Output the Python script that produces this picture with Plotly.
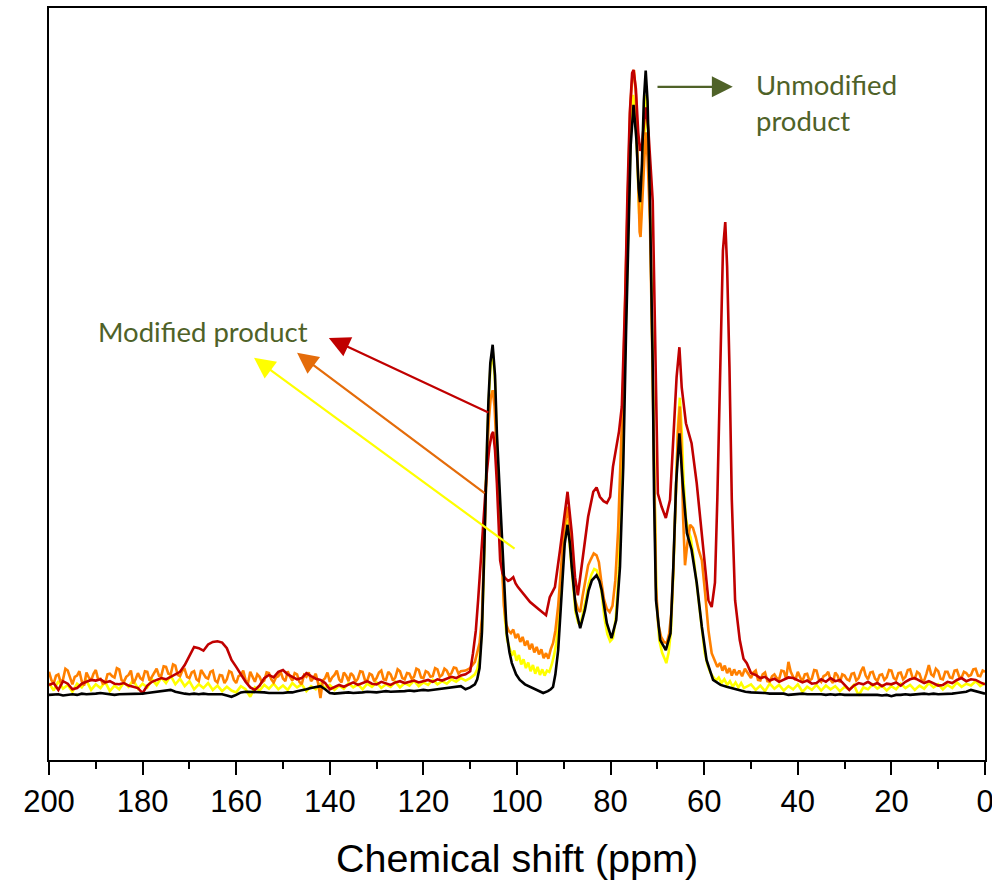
import plotly.graph_objects as go

# 13C CP/MAS spectra: intensity (a.u.) vs chemical shift (ppm)
# Baseline stretches are sampled on a regular ppm grid (200 -> 112 ppm and
# 50 -> 0 ppm); the peak region in between is listed point by point.
LEFT_PPM = list(range(200, 111, -1))
RIGHT_PPM = list(range(50, -1, -1))
# the noisier orange trace is sampled every 0.5 ppm
LEFT_PPM_FINE = [200 - 0.5 * i for i in range(177)]
RIGHT_PPM_FINE = [50 - 0.5 * i for i in range(101)]

black_left = [
    -0.3, -0.3, -0.2, -0.4, -0.3, -0.2, -0.3, -0.1, -0.2, -0.2,
    -0.1, 0.0, -0.1, -0.2, -0.3, -0.2, -0.2, -0.1, -0.2, -0.2,
    -0.1, 0.0, 0.1, 0.1, 0.2, 0.3, 0.5, 0.2, 0.0, -0.1,
    -0.2, -0.1, -0.2, -0.1, -0.2, -0.2, -0.3, -0.2, -0.4, -0.6,
    -0.3, 0.1, 0.2, 0.2, 0.1, 0.2, 0.1, 0.0, 0.0, -0.1,
    0.0, 0.1, 0.1, 0.3, 0.4, 0.6, 0.8, 0.9, 1.1, 0.6,
    0.0, -0.1, 0.0, 0.1, 0.1, 0.0, 0.0, 0.1, 0.2, 0.1,
    0.1, 0.2, 0.3, 0.2, 0.2, 0.3, 0.3, 0.4, 0.3, 0.4,
    0.5, 0.4, 0.5, 0.6, 0.6, 0.7, 0.8, 0.9, 1.1,
]
black_peak = [
    (111, 0.6), (110, 0.9), (109, 1.4), (108.5, 2.2), (108, 4.0), (107.5, 9.6),
    (107.1, 20), (106.8, 31), (106.4, 40), (106.1, 47), (105.7, 53), (105.2, 55.9),
    (104.7, 51), (104.3, 41.7), (103.6, 31), (103.0, 20.2), (102.6, 14), (102.2, 9.6),
    (101.6, 6.5), (101.1, 4.8), (100.2, 3.0), (99.4, 2.1), (98.3, 1.4), (97.2, 1.0),
    (96.0, 0.6), (95.0, 0.2), (94.4, 0.0), (93.4, 0.3), (92.8, 0.6), (92.3, 1.0),
    (91.8, 3.0), (91.2, 6.9), (90.8, 12), (90.4, 17.7), (89.8, 24), (89.2, 27.0),
    (88.7, 24), (88.3, 20.2), (87.4, 13.3), (86.5, 10.4), (85.5, 13.3), (84.7, 16.5),
    (84.0, 18.1), (83.0, 18.9), (82.4, 18.0), (81.9, 16.5), (80.8, 11.2), (79.8, 8.8),
    (78.8, 11.7), (78.0, 20.2), (77.3, 36.3), (76.7, 57.8), (76.2, 75), (75.7, 88),
    (75.1, 94.4), (74.5, 89), (74.0, 81), (73.7, 78.8), (73.3, 85), (72.9, 95),
    (72.5, 99.9), (72.1, 95), (71.6, 79), (71.0, 52.3), (70.7, 31), (70.3, 14.9),
    (69.4, 8.5), (68.2, 6.9), (67.2, 9.6), (66.6, 20.2), (66.0, 33.7), (65.3, 41.7),
    (64.6, 33.7), (63.7, 25.7), (62.7, 23.0), (61.6, 17.7), (60.5, 10.6), (59.5, 5.3),
    (58.1, 2.1), (56.5, 1.3), (55.2, 1.0), (53.8, 0.7), (52.4, 0.5), (51.2, 0.2),
]
black_right = [
    0.1, 0.1, 0.0, 0.0, -0.1, -0.1, -0.2, -0.1, -0.3, -0.2,
    -0.1, -0.1, -0.2, -0.2, -0.1, -0.2, -0.3, -0.2, -0.3, -0.2,
    -0.3, -0.3, -0.2, -0.2, -0.3, -0.2, -0.2, -0.3, -0.4, -0.3,
    -0.5, -0.3, -0.3, -0.2, -0.3, -0.2, -0.2, -0.1, -0.2, -0.1,
    -0.2, -0.2, -0.1, -0.1, 0.0, 0.1, 0.2, 0.5, 0.3, 0.0, -0.1,
]

red_left = [
    1.3, 1.6, 0.5, 1.9, 1.5, 0.6, 0.8, 1.5, 1.8, 2.1,
    2.0, 2.2, 1.7, 1.9, 1.5, 1.4, 1.6, 1.2, 1.0, 0.8,
    0.0, 1.2, 1.8, 2.1, 2.4, 2.2, 2.6, 2.9, 3.4, 4.5,
    6.0, 7.4, 7.2, 6.8, 7.8, 8.2, 8.3, 8.1, 7.2, 5.3,
    4.2, 2.9, 1.8, 0.9, 0.5, 1.2, 2.4, 2.9, 2.5, 3.4,
    3.7, 3.0, 2.6, 2.2, 2.4, 3.2, 2.7, 2.3, 2.1, 1.6,
    0.6, 0.9, 1.3, 1.0, 1.4, 1.7, 1.3, 1.6, 1.9, 1.5,
    1.4, 1.8, 1.6, 1.3, 1.7, 1.9, 1.6, 1.8, 2.0, 1.7,
    1.9, 2.1, 1.8, 2.2, 2.0, 2.3, 2.6, 2.4, 2.8,
]
red_peak = [
    (111, 3.0), (110, 3.5), (109.4, 6.4), (108.8, 10), (108.3, 15), (107.7, 22),
    (107.1, 29), (106.5, 35), (105.9, 39.5), (105.4, 41.5), (105.1, 41.9), (104.7, 39),
    (104.3, 33.7), (103.9, 27), (103.6, 21.3), (103.1, 19.2), (102.6, 18.5), (101.9, 18.0),
    (101.4, 18.2), (100.8, 18.6), (100.3, 17.6), (99.8, 17.0), (98.7, 16.0), (97.2, 14.6),
    (95.1, 13.3), (93.8, 12.5), (93.0, 15.4), (91.9, 17.0), (90.8, 23), (89.7, 29.4),
    (89.2, 32.3), (88.3, 25.7), (87.6, 18.6), (87.0, 15.7), (86.4, 19), (85.6, 24),
    (84.8, 28.3), (83.7, 32.3), (83.0, 33.0), (82.3, 31.5), (81.5, 30.8), (80.8, 30.5),
    (80.1, 31.5), (79.5, 36.3), (78.9, 39), (78.2, 42), (77.6, 46), (77.2, 54),
    (76.9, 63), (76.4, 80), (75.9, 93), (75.4, 99.5), (75.1, 100.0), (74.6, 97),
    (74.1, 90), (73.7, 87), (73.3, 88), (72.8, 92), (72.4, 94), (71.9, 90),
    (71.4, 84), (71.0, 79), (70.6, 62), (70.2, 42), (69.9, 32), (69.1, 29.9),
    (68.2, 28.1), (67.3, 31), (66.7, 39), (65.9, 50.7), (65.3, 55.5), (64.8, 49),
    (63.9, 43.3), (62.7, 40.1), (61.6, 33.7), (60.5, 25.7), (59.8, 20.2), (59.1, 14.9),
    (58.4, 13.8), (57.7, 17.7), (57.2, 31), (56.6, 52.3), (56.0, 71), (55.5, 75.6),
    (55.1, 68.4), (54.6, 52.3), (54.1, 31), (53.4, 14.9), (52.4, 8.5), (51.6, 5.5),
    (50.9, 4.8),
]
red_right = [
    3.2, 2.9, 2.4, 2.6, 2.0, 2.3, 1.8, 2.2, 2.5, 2.4,
    2.1, 1.7, 2.0, 1.5, 1.6, 2.2, 1.8, 2.4, 1.9, 2.1,
    1.3, 0.5, 1.2, 1.6, 1.4, 1.8, 1.3, 1.6, 1.1, 1.5,
    1.4, 1.7, 1.2, 1.8, 2.2, 2.4, 2.0, 1.6, 1.9, 1.5,
    1.2, 1.3, 1.8, 1.6, 2.1, 2.4, 1.9, 2.2, 2.1, 1.7, 1.4,
]

orange_left = [
    3.4, 2.1, 1.5, 2.8, 3.0, 1.7, 2.2, 3.9, 3.6, 2.4,
    1.4, 2.6, 2.8, 3.5, 1.9, 1.2, 3.3, 2.5, 2.0, 3.1,
    3.7, 2.2, 2.3, 1.5, 1.6, 3.0, 3.1, 2.7, 2.5, 4.0,
    3.8, 2.1, 1.8, 2.6, 2.9, 3.6, 1.5, 2.2, 3.2, 2.4,
    2.1, 3.5, 3.4, 2.0, 2.6, 3.3, 3.9, 2.8, 2.8, 4.3,
    4.2, 3.1, 3.0, 4.6, 4.4, 2.9, 2.7, 3.6, 3.8, 2.6,
    2.4, 3.3, 3.5, 2.2, 1.9, 3.7, 3.1, 2.5, 2.3, 3.4,
    3.6, 2.0, 1.7, 2.9, 2.8, 1.6, 2.2, 3.5, 3.3, 2.1,
    1.6, 2.7, 2.9, 3.6, 2.1, 1.5, 3.4, 2.6, 1.8, 3.0,
    2.6, 1.7, 2.0, 3.3, 3.2, 2.2, 1.7, 2.5, 2.7, 3.4,
    2.3, 1.9, 3.5, 2.6, 2.0, 3.2, 3.0, 1.8, 1.4, 2.9,
    2.6, 3.3, 1.9, 2.4, 3.1, 1.6, -0.8, 2.0, 2.4, 3.3,
    1.8, 2.5, 2.9, 3.6, 2.2, 1.7, 3.3, 2.8, 1.9, 3.2,
    2.8, 1.8, 2.3, 3.5, 3.4, 2.1, 2.0, 3.1, 2.9, 1.9,
    2.4, 3.3, 3.6, 2.2, 2.1, 3.4, 3.0, 2.0, 2.5, 3.8,
    3.5, 2.4, 2.2, 3.2, 3.1, 2.3, 2.6, 3.9, 3.7, 2.5,
    2.4, 3.5, 3.3, 2.6, 2.7, 4.0, 3.8, 2.6, 2.9, 3.9,
    3.6, 2.8, 3.2, 4.1, 4.0, 3.1, 3.5,
]
orange_peak = [
    (111, 3.6), (110, 4.0), (109, 5.0), (108.5, 6.5), (108, 8.0), (107.5, 12),
    (107.1, 20), (106.8, 29), (106.4, 38), (106.0, 44), (105.6, 47.5), (105.2, 48.6),
    (104.8, 46), (104.3, 38), (103.8, 28), (103.3, 20), (102.8, 14), (102.3, 11),
    (101.8, 10), (101.3, 9.6), (100.8, 10.2), (100.3, 8.8), (99.8, 9.5), (99.3, 8.2),
    (98.8, 9.0), (98.3, 7.6), (97.8, 8.4), (97.3, 7.0), (96.8, 7.9), (96.3, 6.5),
    (95.8, 7.4), (95.3, 6.2), (94.8, 7.0), (94.3, 5.6), (93.8, 6.4), (93.3, 5.5),
    (92.8, 7.0), (92.3, 8.0), (91.8, 10), (91.2, 14), (90.6, 20), (90.0, 26),
    (89.2, 29.9), (88.7, 26), (88.2, 20), (87.6, 15), (87.0, 13.5), (86.5, 13),
    (86.0, 15.5), (85.4, 18), (84.8, 20.5), (84.2, 21.5), (83.6, 22.4), (83.0, 22.1),
    (82.5, 21), (82.0, 18), (81.4, 15), (80.8, 13.5), (80.2, 13), (79.6, 14),
    (79.0, 18), (78.4, 26), (77.8, 38), (77.3, 50), (76.8, 66), (76.3, 82),
    (75.8, 94), (75.3, 99.5), (75.0, 100), (74.6, 96), (74.2, 85), (73.8, 74),
    (73.6, 73.2), (73.3, 78), (72.9, 86), (72.5, 90), (72.1, 86), (71.6, 76),
    (71.1, 55), (70.7, 33), (70.3, 17), (69.8, 11), (69.2, 9), (68.6, 8.2),
    (68.0, 8.0), (67.5, 9.5), (67.0, 13), (66.6, 20), (66.1, 32), (65.6, 42),
    (65.2, 46), (64.9, 40), (64.5, 28), (64.1, 20.5), (63.6, 24), (63.0, 27),
    (62.4, 26.5), (61.8, 25), (61.2, 23), (60.5, 21.3), (59.8, 16), (59.1, 10.1),
    (58.4, 6.4), (57.7, 5.0), (57.2, 4.2), (56.6, 4.8), (56.1, 3.6), (55.6, 4.4),
    (55.1, 3.2), (54.6, 4.0), (54.1, 2.8), (53.6, 3.8), (53.1, 2.9), (52.5, 3.6),
    (51.9, 2.7), (51.3, 3.9),
]
orange_right = [
    2.4, 3.3, 3.6, 2.1, 2.0, 3.0, 3.3, 1.9, 1.8, 2.7,
    3.0, 2.4, 2.2, 3.6, 3.5, 2.3, 5.0, 3.4, 2.6, 2.1,
    3.4, 2.5, 1.9, 3.0, 3.1, 2.0, 2.3, 3.7, 3.6, 2.2,
    1.8, 2.7, 2.9, 3.4, 2.1, 1.6, 3.3, 2.8, 1.7, 3.0,
    2.8, 2.2, 2.0, 3.1, 3.2, 2.0, 2.4, 3.5, 4.2, 2.8,
    2.2, 3.3, 3.4, 2.3, 1.9, 2.9, 3.0, 2.1, 2.5, 3.7,
    3.6, 2.4, 2.1, 3.2, 3.3, 2.2, 2.6, 3.7, 3.8, 2.5,
    2.3, 3.4, 3.1, 2.0, 2.0, 3.1, 4.5, 3.0, 2.7, 3.9,
    3.5, 2.3, 2.2, 3.4, 3.4, 2.5, 2.4, 3.6, 3.7, 2.6,
    2.5, 3.4, 3.2, 2.7, 2.9, 3.8, 3.9, 2.8, 2.7, 3.6,
    3.4,
]

yellow_left = [
    1.6, 0.4, 1.9, 0.7, 1.3, 0.2, 1.5, 0.9, 2.0, 0.5,
    1.4, 0.8, 1.8, 0.3, 1.2, 0.6, 1.7, 1.0, 2.1, 0.7,
    1.5, 0.9, 2.2, 1.3, 2.5, 1.6, 2.8, 1.4, 2.3, 1.1,
    1.9, 0.6, 1.4, 0.8, 1.6, 0.5, 1.2, 0.3, 1.0, 0.4,
    0.1, 1.1, 0.6, -0.6, 0.9, 0.4, 1.3, 0.7, 1.5, 0.6,
    1.2, 0.5, 1.6, 0.9, 1.4, 0.3, 1.1, 0.6, 1.5, 0.8,
    1.3, 0.5, 1.2, 0.7, 1.6, 0.9, 1.4, 0.6, 1.5, 1.0,
    1.7, 0.8, 1.4, 1.0, 1.8, 0.9, 1.6, 1.2, 2.0, 1.1,
    1.7, 1.3, 2.1, 1.4, 1.9, 1.5, 2.2, 1.8, 2.4,
]
yellow_peak = [
    (111, 2.0), (110, 2.4), (109, 3.0), (108.5, 3.8), (108, 5.5), (107.5, 10),
    (107.1, 19), (106.8, 30), (106.4, 40), (106.1, 46), (105.7, 52), (105.2, 55),
    (104.7, 50), (104.3, 40), (103.7, 30), (103.1, 20), (102.6, 12), (102.1, 8.5),
    (101.6, 7.2), (101.1, 6.0), (100.6, 6.8), (100.1, 5.2), (99.6, 6.1), (99.1, 4.6),
    (98.6, 5.4), (98.1, 4.0), (97.6, 4.9), (97.1, 3.5), (96.6, 4.5), (96.1, 3.1),
    (95.6, 4.2), (95.1, 2.9), (94.6, 3.8), (94.1, 2.8), (93.6, 3.6), (93.1, 3.4),
    (92.6, 4.5), (92.1, 6.0), (91.6, 8.0), (91.1, 12), (90.5, 19), (89.9, 25),
    (89.2, 27.8), (88.7, 24), (88.2, 19), (87.5, 13), (86.9, 11.2), (86.4, 11),
    (85.9, 12.6), (85.3, 15), (84.7, 17.5), (84.1, 19), (83.5, 19.9), (83.0, 19.7),
    (82.4, 18.5), (81.9, 16), (81.3, 12), (80.7, 9.5), (80.1, 8.3), (79.5, 8.8),
    (78.9, 12), (78.3, 19), (77.7, 32), (77.2, 46), (76.7, 62), (76.2, 78),
    (75.7, 90), (75.2, 96), (74.8, 94), (74.3, 86), (73.9, 77), (73.6, 75),
    (73.2, 82), (72.8, 91), (72.4, 96), (72.0, 90), (71.5, 75), (71.0, 52),
    (70.6, 30), (70.2, 15), (69.6, 8.5), (69.0, 6.5), (68.5, 5.6), (68.1, 4.8),
    (67.6, 6.5), (67.1, 10), (66.6, 19), (66.1, 32), (65.6, 43), (65.2, 47.4),
    (64.8, 42), (64.4, 34), (63.9, 28), (63.4, 26), (62.9, 25), (62.3, 22),
    (61.7, 18), (61.1, 13.5), (60.5, 9.5), (59.9, 6.5), (59.3, 4.5), (58.7, 3.3),
    (58.1, 2.6), (57.5, 2.0), (56.9, 2.5), (56.3, 1.6), (55.7, 2.2), (55.1, 1.3),
    (54.5, 1.9), (53.9, 1.0), (53.3, 1.7), (52.7, 0.9), (52.1, 1.6), (51.5, 0.8),
]
yellow_right = [
    1.4, 0.5, 1.2, 0.3, 1.5, 0.7, 1.3, 0.4, 1.1, 0.6,
    1.4, 0.2, 1.0, 0.5, 1.3, 0.4, 1.2, 0.6, 1.1, 0.3,
    1.0, 0.5, 1.3, -0.4, 0.9, 0.6, 1.4, 0.7, 1.2, 0.4,
    1.1, 0.6, 1.5, 0.8, 1.3, 0.5, 1.2, 0.7, 1.6, 0.9,
    1.4, 0.6, 1.3, 0.8, 1.7, 1.0, 1.5, 1.2, 1.9, 1.1, 1.6,
]

# drawing order: yellow at the back, black on top
SERIES = [
    ("yellow", "#ffff00", LEFT_PPM, yellow_left, yellow_peak, RIGHT_PPM, yellow_right),
    ("orange", "#ff8000", LEFT_PPM_FINE, orange_left, orange_peak, RIGHT_PPM_FINE, orange_right),
    ("red", "#c00000", LEFT_PPM, red_left, red_peak, RIGHT_PPM, red_right),
    ("black", "#000000", LEFT_PPM, black_left, black_peak, RIGHT_PPM, black_right),
]

fig = go.Figure()
for name, color, lppm, left, peak, rppm, right in SERIES:
    ppm = lppm + [p for p, _ in peak] + rppm
    inten = left + [v for _, v in peak] + right
    fig.add_trace(go.Scatter(
        x=ppm, y=inten, mode="lines", name=name,
        line=dict(color=color, width=2.6), showlegend=False,
    ))

GREEN = "#4f6228"
TEXT_FONT = dict(family="Lato, Open Sans, sans-serif", size=27.5, color=GREEN)

annotations = [
    dict(x=167.2, y=58.1, xref="x", yref="y", text="Modified product",
         showarrow=False, font=TEXT_FONT, xanchor="center", yanchor="middle"),
    dict(x=49.4, y=94.8, xref="x", yref="y", text="Unmodified<br>product",
         showarrow=False, font=TEXT_FONT, xanchor="left", yanchor="middle",
         align="left"),
]
# arrows: (head ppm, head intensity, tail ppm, tail intensity, colour)
ARROWS = [
    (140.2, 57.0, 105.8, 44.9, "#c00000"),
    (147.0, 54.6, 106.6, 31.9, "#e46c0a"),
    (156.2, 53.8, 100.2, 23.0, "#ffff00"),
    (53.9, 97.3, 70.3, 97.3, GREEN),
]
for hx, hy, tx, ty, col in ARROWS:
    annotations.append(dict(
        x=hx, y=hy, ax=tx, ay=ty, xref="x", yref="y", axref="x", ayref="y",
        text="", showarrow=True, arrowhead=2, arrowsize=1.9, arrowwidth=2.2,
        arrowcolor=col, standoff=0, startstandoff=0,
    ))

AXIS_FONT = "Liberation Sans, Arial, sans-serif"
fig.update_layout(
    width=992, height=881,
    margin=dict(l=49, r=7, t=8, b=121),
    paper_bgcolor="white", plot_bgcolor="white",
    annotations=annotations,
    xaxis=dict(
        range=[200, 0], tickmode="array", tickvals=list(range(0, 201, 20)),
        ticks="outside", ticklen=13, tickwidth=2, tickcolor="black",
        minor=dict(tickvals=list(range(10, 200, 20)), ticks="outside",
                   ticklen=7, tickwidth=2, tickcolor="black"),
        showline=True, linewidth=2, linecolor="black", mirror=True,
        showgrid=False, zeroline=False, automargin=False,
        ticklabeloverflow="allow",
        tickfont=dict(family=AXIS_FONT, size=31, color="black"),
        title=dict(text="Chemical shift (ppm)", standoff=26,
                   font=dict(family=AXIS_FONT, size=39.5, color="black")),
    ),
    yaxis=dict(
        range=[-10.75, 109.95], showticklabels=False, ticks="",
        showline=True, linewidth=2, linecolor="black", mirror=True,
        showgrid=False, zeroline=False, automargin=False,
    ),
)

fig.write_html("out.html")
